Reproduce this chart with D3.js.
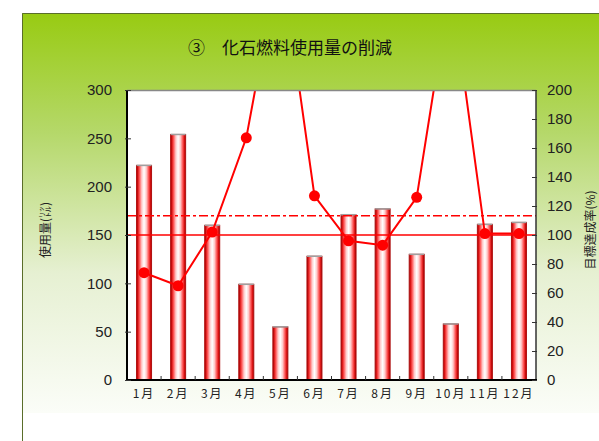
<!DOCTYPE html>
<html><head><meta charset="utf-8">
<script src="https://cdn.jsdelivr.net/npm/d3@7"></script>
<style>html,body{margin:0;padding:0;background:#fff;}svg{display:block;}</style>
</head><body>
<script>
const months = ["1月","2月","3月","4月","5月","6月","7月","8月","9月","10月","11月","12月"];
const usage = [222, 254, 160, 99, 55, 128, 171, 177, 130, 58, 161, 163];
const rate = [74, 65, 102, 167, 294, 127, 96, 93, 126, 274, 101, 101];
const targetUsage = 150;
const dashLine = 170;
const leftTicks = [0,50,100,150,200,250,300];
const rightTicks = [0,20,40,60,80,100,120,140,160,180,200];

const W=599,H=441;
const svg=d3.select("body").append("svg").attr("width",W).attr("height",H);
const defs=svg.append("defs");
const bg=defs.append("linearGradient").attr("id","bg").attr("x1",0).attr("y1",0).attr("x2",0).attr("y2",1);
bg.append("stop").attr("offset","0%").attr("stop-color","#98cb12");
bg.append("stop").attr("offset","30%").attr("stop-color","#b5d86a");
bg.append("stop").attr("offset","65%").attr("stop-color","#e6f0d2");
bg.append("stop").attr("offset","100%").attr("stop-color","#fbfdf8");
const bar=defs.append("linearGradient").attr("id","bar").attr("x1",0).attr("y1",0).attr("x2",1).attr("y2",0);
[["0%","#900000"],["8%","#d81010"],["20%","#ff5a5a"],["35%","#ffcccc"],["50%","#ffffff"],["65%","#ffcccc"],["80%","#ff5a5a"],["92%","#d81010"],["100%","#900000"]]
 .forEach(s=>bar.append("stop").attr("offset",s[0]).attr("stop-color",s[1]));

svg.append("rect").attr("x",22).attr("y",13).attr("width",W-22).attr("height",400).attr("fill","url(#bg)");
svg.append("path").attr("d",`M22.5,${H} V13.5 H${W}`).attr("fill","none").attr("stroke","#5a6e2a").attr("stroke-width",1);

const L=127,R=536,T=90,B=380;
const x=d3.scaleBand().domain(months).range([L,R]);
const yL=d3.scaleLinear().domain([0,300]).range([B,T]);
const yR=d3.scaleLinear().domain([0,200]).range([B,T]);

svg.append("rect").attr("x",L).attr("y",T).attr("width",R-L).attr("height",B-T).attr("fill","#fff");

// bars
const bw=15;
svg.append("g").selectAll("rect").data(usage).join("rect")
 .attr("x",(d,i)=>x(months[i])+x.bandwidth()/2-bw/2).attr("y",d=>yL(d))
 .attr("width",bw).attr("height",d=>B-yL(d)).attr("fill","url(#bar)")
 .attr("stroke","#b01010").attr("stroke-width",1);
svg.append("g").selectAll("line").data(usage).join("line")
 .attr("x1",(d,i)=>x(months[i])+x.bandwidth()/2-bw/2).attr("x2",(d,i)=>x(months[i])+x.bandwidth()/2+bw/2)
 .attr("y1",d=>yL(d)).attr("y2",d=>yL(d)).attr("stroke","#a0a0a0").attr("stroke-width",1.5);

// reference lines
svg.append("line").attr("x1",L).attr("x2",R).attr("y1",yL(targetUsage)).attr("y2",yL(targetUsage)).attr("stroke","#ff0000").attr("stroke-width",1.5);
svg.append("line").attr("x1",L).attr("x2",R).attr("y1",yL(dashLine)).attr("y2",yL(dashLine)).attr("stroke","#ff0000").attr("stroke-width",1.5).attr("stroke-dasharray","9,3,3,3");

// line series (clipped)
defs.append("clipPath").attr("id","clip").append("rect").attr("x",L).attr("y",T).attr("width",R-L).attr("height",B-T);
const g=svg.append("g").attr("clip-path","url(#clip)");
const line=d3.line().x((d,i)=>x(months[i])+x.bandwidth()/2).y(d=>yR(d));
g.append("path").datum(rate).attr("d",line).attr("fill","none").attr("stroke","#ff0000").attr("stroke-width",2);
g.selectAll("circle").data(rate).join("circle").attr("cx",(d,i)=>x(months[i])+x.bandwidth()/2).attr("cy",d=>yR(d)).attr("r",5.5).attr("fill","#ff0000");

// frame
svg.append("line").attr("x1",L).attr("x2",R).attr("y1",T+0.5).attr("y2",T+0.5).attr("stroke","#888").attr("stroke-width",1.5);
svg.append("line").attr("x1",R).attr("x2",R).attr("y1",T).attr("y2",B).attr("stroke","#333").attr("stroke-width",1.5);
svg.append("line").attr("x1",L).attr("x2",L).attr("y1",T).attr("y2",B+1).attr("stroke","#000").attr("stroke-width",2);
svg.append("line").attr("x1",L-1).attr("x2",R+1).attr("y1",B).attr("y2",B).attr("stroke","#000").attr("stroke-width",2);

// axes
const font="'Liberation Sans', Arial, sans-serif";
const la=svg.append("g").attr("transform",`translate(${L},0)`).call(d3.axisLeft(yL).tickValues(leftTicks).tickSize(4).tickPadding(11));
la.select(".domain").remove();
la.selectAll("line").attr("x2",4).attr("x1",-2).attr("stroke","#333");
la.selectAll("text").attr("font-family",font).attr("font-size",15).attr("fill","#222");
const ra=svg.append("g").attr("transform",`translate(${R},0)`).call(d3.axisRight(yR).tickValues(rightTicks).tickSize(0).tickPadding(11));
ra.select(".domain").remove();
ra.selectAll(".tick").append("line").attr("x1",-4).attr("x2",1).attr("stroke","#333");
ra.selectAll("text").attr("font-family",font).attr("font-size",15).attr("fill","#222");

const xa=svg.append("g").attr("transform",`translate(0,${B})`).call(d3.axisBottom(x).tickSize(0).tickPadding(9));
xa.select(".domain").remove();
xa.selectAll("text").attr("font-family","'Noto Sans CJK JP', sans-serif").attr("font-size",12).attr("fill","#222").attr("letter-spacing","2px");
svg.append("g").selectAll("line").data(months.slice(1)).join("line")
 .attr("x1",d=>x(d)).attr("x2",d=>x(d)).attr("y1",B).attr("y2",B-4).attr("stroke","#333");

// titles
svg.append("text").attr("x",290).attr("y",54).attr("text-anchor","middle").attr("font-family","'Noto Sans CJK JP', sans-serif").attr("font-size",17).attr("fill","#111").text("③　化石燃料使用量の削減");
svg.append("text").attr("transform","translate(50,230) rotate(-90)").attr("text-anchor","middle").attr("font-family","'Noto Sans CJK JP', sans-serif").attr("font-size",12).attr("fill","#222").text("使用量(㍑)");
svg.append("text").attr("transform","translate(595,230) rotate(-90)").attr("text-anchor","middle").attr("font-family","'Noto Sans CJK JP', sans-serif").attr("font-size",12).attr("fill","#222").text("目標達成率(%)");
</script>
</body></html>
